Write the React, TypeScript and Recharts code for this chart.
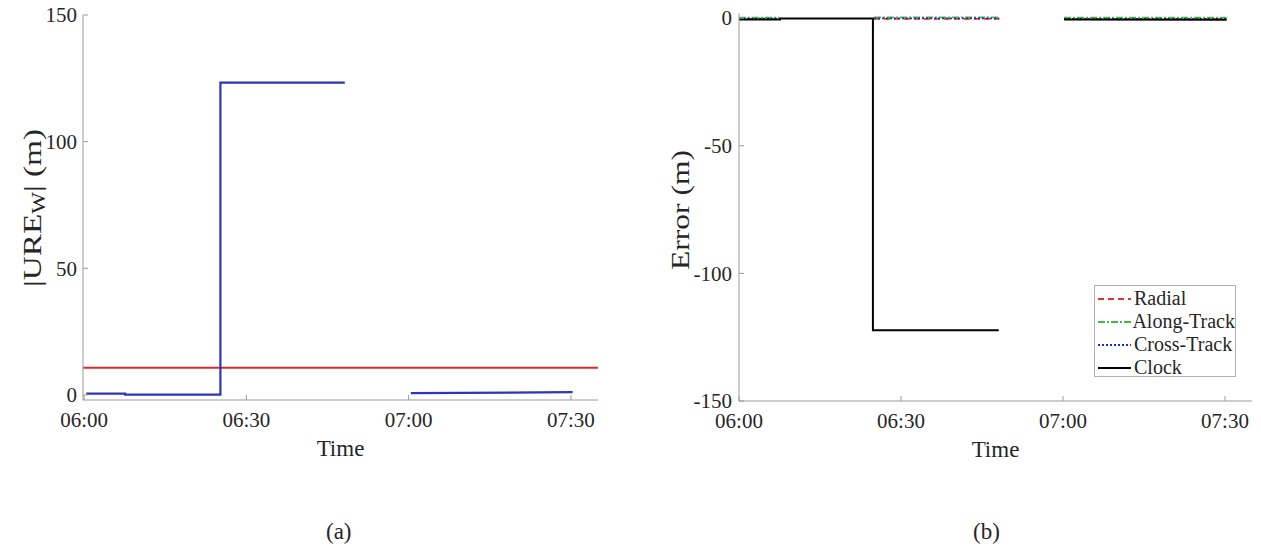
import React from 'react';
import { LineChart, Line, XAxis, YAxis, ReferenceLine } from 'recharts';

// time in minutes after 06:00
const timeTicks = [0, 30, 60, 90];
const ureTicks = [0, 50, 100, 150];
const errorTicks = [-150, -100, -50, 0];

const ureTime = [0.4, 7.6, 7.6, 25.2, 25.2, 48.2, 54, 60.4, 90.3];
const ureValue = [0.5, 0.5, 0.1, 0.1, 123.3, 123.3, null, 0.7, 1.1];
const ureThreshold = 10.7;

const clockTime = [0, 7.6, 7.6, 24.8, 24.8, 48.1, 54, 60.2, 90.3];
const clockValue = [-0.5, -0.5, -0.2, -0.2, -122.3, -122.3, null, -0.5, -0.6];

const orbitTime = [0, 7.4, 16, 25, 48.2, 54, 60.2, 90.3];
const radialValue = [-0.4, -0.4, null, -0.3, -0.3, null, -0.4, -0.4];
const alongValue = [0.2, 0.2, null, 0.3, 0.3, null, 0.2, 0.2];
const crossValue = [-0.2, -0.2, null, -0.1, -0.1, null, -0.3, -0.3];

const zip = (t: number[], v: (number | null)[]) => t.map((x, i) => ({ t: x, v: v[i] }));

const FONT = '"Liberation Serif", "Times New Roman", serif';
const AXIS = '#9a9a9a';
const TXT = '#262626';

const fmtTime = (m: number) => {
  const h = 6 + Math.floor(m / 60);
  const mm = m % 60;
  return `${String(h).padStart(2, '0')}:${String(mm).padStart(2, '0')}`;
};
const blank = () => '';

const series = [
  { name: 'Radial', color: '#e53030', dash: '6 4', data: zip(orbitTime, radialValue) },
  { name: 'Along-Track', color: '#3cbf3c', dash: '7 2 2 2', data: zip(orbitTime, alongValue) },
  { name: 'Cross-Track', color: '#2828c8', dash: '2 2', data: zip(orbitTime, crossValue) },
  { name: 'Clock', color: '#000000', dash: undefined, data: zip(clockTime, clockValue) },
];

function TimeTick(props: any) {
  const { x, y, payload } = props;
  return (
    <text x={x} y={y} dy="0.71em" textAnchor="middle" fontSize={21} fill={TXT} fontFamily={FONT}>
      {fmtTime(payload.value)}
    </text>
  );
}

function ValueTick(props: any) {
  const { x, y, payload } = props;
  return (
    <text x={x} y={y} dy="0.35em" textAnchor="end" fontSize={21} fill={TXT} fontFamily={FONT}>
      {payload.value}
    </text>
  );
}

function UreLabel() {
  return (
    <text x={32} y={208} transform="rotate(-90 32 208)" textAnchor="middle" dominantBaseline="central"
      fontSize={26} fill={TXT} fontFamily={FONT} textLength={158} lengthAdjust="spacingAndGlyphs">
      |URE<tspan fontSize={18} dy={7}>W</tspan><tspan dy={-7}>| (m)</tspan>
    </text>
  );
}

function ErrLabel() {
  return (
    <text x={30} y={210} transform="rotate(-90 30 210)" textAnchor="middle" dominantBaseline="central"
      fontSize={26} fill={TXT} fontFamily={FONT} textLength={120} lengthAdjust="spacingAndGlyphs">
      Error (m)
    </text>
  );
}

function LegendBox() {
  return (
    <div style={{ position: 'absolute', left: 1094, top: 285, width: 142, height: 92, border: '1px solid #b0b0b0',
      background: '#fff', boxSizing: 'border-box', paddingTop: 1 }}>
      {series.map((s) => (
        <div key={s.name} style={{ display: 'flex', alignItems: 'center', height: 23, fontFamily: FONT, fontSize: 20,
          color: TXT, whiteSpace: 'nowrap' }}>
          <svg width={36} height={10} style={{ marginLeft: 2, marginRight: 1 }}>
            <line x1={1} y1={5} x2={34} y2={5} stroke={s.color} strokeWidth={2} strokeDasharray={s.dash} />
          </svg>
          {s.name}
        </div>
      ))}
    </div>
  );
}

const timeLabel = { value: 'Time', position: 'bottom' as const, offset: 10, fontSize: 23, fill: TXT, fontFamily: FONT };

export default function App() {
  return (
    <div style={{ position: 'absolute', left: 0, top: 0, width: 1261, height: 552, background: '#fff', fontFamily: FONT }}>
      <div style={{ position: 'absolute', left: 0, top: 0 }}>
        <LineChart width={640} height={480} margin={{ top: 15, right: 42, bottom: 50, left: 23 }}>
          <XAxis dataKey="t" type="number" domain={[-0.2, 95]} ticks={timeTicks} allowDataOverflow height={30}
            stroke={AXIS} tickSize={-5} tickMargin={17} tick={<TimeTick />} label={timeLabel} />
          <XAxis xAxisId="top" orientation="top" type="number" domain={[-0.2, 95]} ticks={timeTicks}
            tickFormatter={blank} allowDataOverflow height={0} stroke={AXIS} tickSize={-5} />
          <YAxis type="number" domain={[-2, 150]} ticks={ureTicks} allowDataOverflow width={60} stroke={AXIS}
            tickSize={-5} tickMargin={11} tick={<ValueTick />} label={<UreLabel />} />
          <YAxis yAxisId="right" orientation="right" type="number" domain={[-2, 150]} ticks={ureTicks}
            tickFormatter={blank} allowDataOverflow width={0} stroke={AXIS} tickSize={-5} />
          <ReferenceLine y={ureThreshold} stroke="#e02828" strokeWidth={2} />
          <Line data={zip(ureTime, ureValue)} dataKey="v" type="linear" stroke="#2b36b8" strokeWidth={2.2}
            dot={false} isAnimationActive={false} connectNulls={false} />
        </LineChart>
      </div>
      <div style={{ position: 'absolute', left: 650, top: 0 }}>
        <LineChart width={611} height={480} margin={{ top: 13, right: 9, bottom: 49, left: 29 }}>
          <XAxis dataKey="t" type="number" domain={[0, 95]} ticks={timeTicks} allowDataOverflow height={30}
            stroke={AXIS} tickSize={-5} tickMargin={17} tick={<TimeTick />} label={timeLabel} />
          <XAxis xAxisId="top" orientation="top" type="number" domain={[0, 95]} ticks={timeTicks}
            tickFormatter={blank} allowDataOverflow height={0} stroke={AXIS} tickSize={-5} />
          <YAxis type="number" domain={[-150, 2]} ticks={errorTicks} allowDataOverflow width={60} stroke={AXIS}
            tickSize={-5} tickMargin={12} tick={<ValueTick />} label={<ErrLabel />} />
          <YAxis yAxisId="right" orientation="right" type="number" domain={[-150, 2]} ticks={errorTicks}
            tickFormatter={blank} allowDataOverflow width={0} stroke={AXIS} tickSize={-5} />
          {series.map((s) => (
            <Line key={s.name} name={s.name} data={s.data} dataKey="v" type="linear" stroke={s.color}
              strokeWidth={s.dash ? 1.6 : 2} strokeDasharray={s.dash} dot={false} isAnimationActive={false}
              connectNulls={false} />
          ))}
        </LineChart>
      </div>
      <LegendBox />
      <div style={{ position: 'absolute', left: 326, top: 519, fontSize: 23, color: TXT }}>(a)</div>
      <div style={{ position: 'absolute', left: 973, top: 519, fontSize: 23, color: TXT }}>(b)</div>
    </div>
  );
}
